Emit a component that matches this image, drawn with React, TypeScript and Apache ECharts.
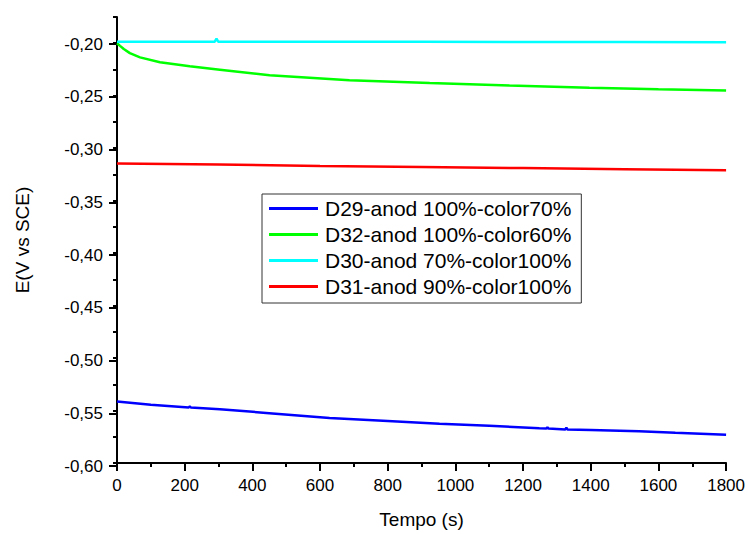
import React, { useEffect, useRef } from "react";
import * as echarts from "echarts";

const seriesNames = [
  "D29-anod 100%-color70%",
  "D32-anod 100%-color60%",
  "D30-anod 70%-color100%",
  "D31-anod 90%-color100%",
];
const seriesColors = ["#0000ff", "#00ff00", "#00ffff", "#ff0000"];

const tBlue = [0, 100, 212, 215, 218, 304, 450, 628, 800, 953, 1100, 1248, 1269, 1272, 1275, 1325, 1328, 1331, 1400, 1543, 1650, 1800];
const vBlue = [-0.5415, -0.5445, -0.547, -0.5462, -0.547, -0.5488, -0.5525, -0.5572, -0.56, -0.5625, -0.5645, -0.567, -0.5672, -0.5658, -0.5672, -0.568, -0.5664, -0.568, -0.5685, -0.5698, -0.5712, -0.5731];

const tGreen = [0, 9, 20, 38, 68, 127, 215, 304, 451, 687, 924, 1160, 1396, 1600, 1800];
const vGreen = [-0.2, -0.2025, -0.2055, -0.2094, -0.2135, -0.2182, -0.222, -0.2252, -0.2305, -0.2352, -0.238, -0.2403, -0.2425, -0.2438, -0.245];

const tCyan = [0, 150, 289, 294, 299, 600, 900, 1200, 1500, 1800];
const vCyan = [-0.1985, -0.1985, -0.1985, -0.1955, -0.1985, -0.1986, -0.1986, -0.1988, -0.1989, -0.199];

const tRed = [0, 300, 600, 900, 1200, 1500, 1800];
const vRed = [-0.3145, -0.3155, -0.317, -0.318, -0.319, -0.32, -0.321];

const xTicks = { min: 0, max: 1800, interval: 200 };
const yTicks = { min: -0.6, max: -0.2, interval: 0.05, top: -0.175 };

const zip = (t: number[], v: number[]) => t.map((x, i) => [x, v[i]]);
const seriesData = [zip(tBlue, vBlue), zip(tGreen, vGreen), zip(tCyan, vCyan), zip(tRed, vRed)];

const FONT = "'Liberation Sans', Arial, sans-serif";

export default function App() {
  const ref = useRef<HTMLDivElement>(null);
  useEffect(() => {
    if (!ref.current) return;
    const chart = echarts.init(ref.current, undefined, { renderer: "svg" });
    const axisLine = { show: true, lineStyle: { color: "#000", width: 2 } };
    chart.setOption({
      animation: false,
      backgroundColor: "#fff",
      textStyle: { fontFamily: FONT },
      grid: [
        { left: 117, right: 21, top: 17, bottom: 68 },
        { left: 117, right: 21, top: 44, bottom: 68 },
      ],
      xAxis: [
        {
          type: "value",
          gridIndex: 0,
          min: xTicks.min,
          max: xTicks.max,
          interval: xTicks.interval,
          axisLine,
          axisTick: { show: true, inside: false, length: 8, lineStyle: { color: "#000", width: 2 } },
          minorTick: { show: true, splitNumber: 2, length: 4, lineStyle: { color: "#000", width: 2 } },
          splitLine: { show: false },
          axisLabel: {
            color: "#000",
            fontSize: 17,
            fontFamily: FONT,
            margin: 14,
            formatter: (v: number) => String(Math.round(v)),
          },
          name: "Tempo (s)",
          nameLocation: "middle",
          nameGap: 47,
          nameTextStyle: { color: "#000", fontSize: 19, fontFamily: FONT },
        },
        {
          type: "value",
          gridIndex: 1,
          min: xTicks.min,
          max: xTicks.max,
          show: false,
        },
      ],
      yAxis: [
        {
          type: "value",
          gridIndex: 0,
          min: yTicks.min,
          max: yTicks.top,
          interval: yTicks.interval / 2,
          axisLine,
          axisTick: { show: true, inside: false, length: 4, lineStyle: { color: "#000", width: 2 } },
          axisLabel: { show: false },
          splitLine: { show: false },
          name: "E(V vs SCE)",
          nameLocation: "middle",
          nameGap: 85,
          nameTextStyle: { color: "#000", fontSize: 19, fontFamily: FONT },
        },
        {
          type: "value",
          gridIndex: 1,
          min: yTicks.min,
          max: yTicks.max,
          interval: yTicks.interval,
          axisLine: { show: false },
          axisTick: { show: true, inside: false, length: 8, lineStyle: { color: "#000", width: 2 } },
          axisLabel: {
            color: "#000",
            fontSize: 17,
            fontFamily: FONT,
            margin: 14,
            formatter: (v: number) => v.toFixed(2).replace(".", ","),
          },
          splitLine: { show: false },
        },
      ],
      legend: {
        show: true,
        orient: "vertical",
        left: 262,
        top: 194,
        padding: [4, 10, 6, 7],
        itemGap: 5,
        itemWidth: 49,
        itemHeight: 3,
        icon: "rect",
        borderColor: "#333",
        borderWidth: 1,
        backgroundColor: "#fff",
        data: seriesNames,
        textStyle: { color: "#000", fontSize: 21, fontFamily: FONT, padding: [0, 0, 0, 2] },
      },
      series: seriesData.map((d, i) => ({
        name: seriesNames[i],
        type: "line",
        xAxisIndex: 0,
        yAxisIndex: 0,
        data: d,
        symbol: "none",
        showSymbol: false,
        color: seriesColors[i],
        lineStyle: { color: seriesColors[i], width: 2.5 },
      })),
    });
    return () => chart.dispose();
  }, []);
  return (
    <div
      ref={ref}
      style={{ position: "fixed", left: 0, top: 0, width: 748, height: 534, background: "#fff" }}
    />
  );
}
